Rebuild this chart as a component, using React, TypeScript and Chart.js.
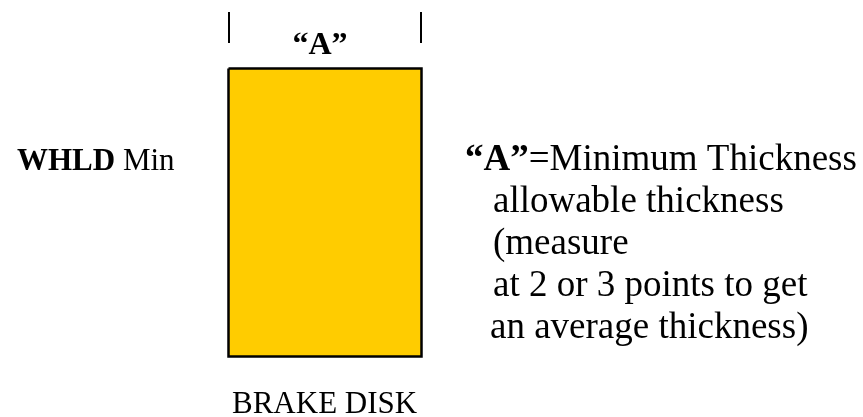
import React, { useEffect, useRef } from "react";
import { Chart, registerables } from "chart.js";

Chart.register(...registerables);

// Diagram geometry in drawing units (x: 0..863, y: 0..417, y grows downward)
const diskLeft = 228.5;
const diskRight = 421.5;
const diskTop = 68.5;
const diskBottom = 356.5;
const markX = [229, 421];
const markTop = 12;
const markBottom = 43;

// "A" dimension label (x = centre, y = baseline)
const dimLabelX = [320];
const dimLabelY = [54];
const dimLabelText = ["\u201CA\u201D"];

// Left label (x = left, y = baseline)
const leftLabelX = [17];
const leftLabelY = [170];
const leftRuns: [string, boolean][] = [["WHLD", true], [" Min", false]];

// Note block (x = left, y = baseline)
const noteX = [465, 493, 493, 493, 490];
const noteY = [170, 212, 254, 296, 338];
const noteRuns: [string, boolean][][] = [
  [["\u201CA\u201D", true], ["=Minimum Thickness", false]],
  [["allowable thickness", false]],
  [["(measure", false]],
  [["at 2 or 3 points to get", false]],
  [["an average thickness)", false]],
];

// Caption (x = left, y = baseline)
const captionX = [232];
const captionY = [413];
const captionText = ["BRAKE DISK"];

const SMALL = 31;
const LARGE = 37;
const FAMILY = "'Liberation Serif', 'Times New Roman', serif";

export default function App() {
  const ref = useRef<HTMLCanvasElement | null>(null);
  useEffect(() => {
    if (!ref.current) return;
    const textPlugin = {
      id: "diagramText",
      afterDatasetsDraw(chart: any) {
        const ctx = chart.ctx as CanvasRenderingContext2D;
        const xs = chart.scales.x;
        const ys = chart.scales.y;
        ctx.save();
        ctx.fillStyle = "#000";
        ctx.textBaseline = "alphabetic";
        ctx.textAlign = "left";
        const drawRuns = (x: number, y: number, runs: [string, boolean][], size: number, align: "left" | "center") => {
          let px = xs.getPixelForValue(x);
          const py = ys.getPixelForValue(y);
          let total = 0;
          for (const [t, b] of runs) {
            ctx.font = `${b ? "bold " : ""}${size}px ${FAMILY}`;
            total += ctx.measureText(t).width;
          }
          if (align === "center") px -= total / 2;
          for (const [t, b] of runs) {
            ctx.font = `${b ? "bold " : ""}${size}px ${FAMILY}`;
            ctx.fillText(t, px, py);
            px += ctx.measureText(t).width;
          }
        };
        dimLabelX.forEach((x, i) => drawRuns(x, dimLabelY[i], [[dimLabelText[i], true]], SMALL + 1, "center"));
        leftLabelX.forEach((x, i) => drawRuns(x, leftLabelY[i], leftRuns, SMALL, "left"));
        noteX.forEach((x, i) => drawRuns(x, noteY[i], noteRuns[i], LARGE, "left"));
        captionX.forEach((x, i) => drawRuns(x, captionY[i], [[captionText[i], false]], SMALL, "left"));
        ctx.restore();
      },
    };
    const markSets = markX.map((mx) => ({
      type: "line",
      data: [
        { x: mx, y: markTop },
        { x: mx, y: markBottom },
      ],
      borderColor: "#000",
      borderWidth: 2,
      pointRadius: 0,
      fill: false,
    }));
    const chart = new Chart(ref.current, {
      type: "scatter",
      data: {
        datasets: [
          {
            type: "line",
            data: [
              { x: diskLeft, y: diskTop },
              { x: diskRight, y: diskTop },
              { x: diskRight, y: diskBottom },
              { x: diskLeft, y: diskBottom },
              { x: diskLeft, y: diskTop },
            ],
            borderColor: "#000",
            borderWidth: 2.5,
            backgroundColor: "#FFCC00",
            fill: "shape",
            pointRadius: 0,
            tension: 0,
          } as any,
          ...(markSets as any[]),
        ],
      },
      options: {
        animation: false,
        responsive: false,
        maintainAspectRatio: false,
        layout: { padding: 0 },
        plugins: { legend: { display: false }, tooltip: { enabled: false } },
        scales: {
          x: { type: "linear", min: 0, max: 863, display: false },
          y: { type: "linear", min: 0, max: 417, reverse: true, display: false },
        },
      },
      plugins: [textPlugin],
    });
    return () => chart.destroy();
  }, []);
  return (
    <div style={{ position: "fixed", left: 0, top: 0, width: 863, height: 417, background: "#fff" }}>
      <canvas ref={ref} width={863} height={417} style={{ width: 863, height: 417 }} />
    </div>
  );
}
